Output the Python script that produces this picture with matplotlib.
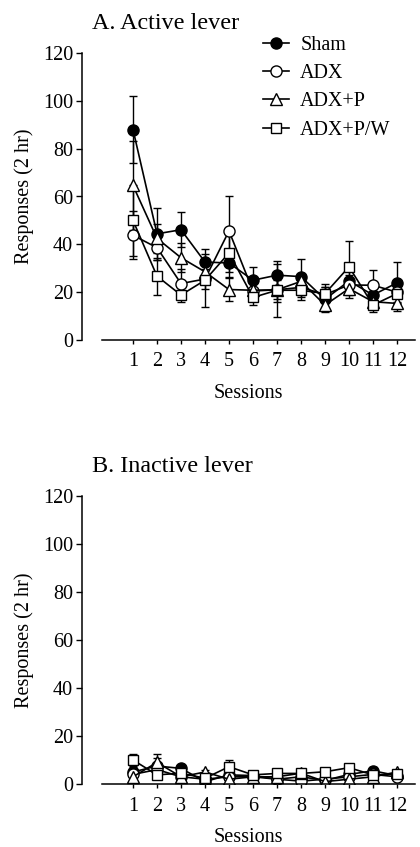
import numpy as np
import matplotlib
matplotlib.use("Agg")
import matplotlib.pyplot as plt
from matplotlib.lines import Line2D

plt.rcParams['font.family'] = ['Liberation Serif', 'DejaVu Serif']
plt.rcParams['font.size'] = 14.5

sessions = list(range(1, 13))
groups = ["Sham", "ADX", "ADX+P", "ADX+P/W"]

# panel A: active lever (mean, sem)
active_sham = [88, 44.4, 46.1, 32.6, 32.2, 25, 27.1, 26.5, 17, 24.7, 18.8, 23.9]
active_sham_err = [14, 11, 7.4, 5.6, 6, 5.5, 6, 7.5, 5, 5, 4, 8.7]
active_adx = [43.8, 38.6, 23.6, 25.5, 45.6, 20.5, 21, 22, 19, 23, 22.9, 20]
active_adx_err = [10, 5, 6, 4, 14.4, 4, 5, 4, 3, 4, 6.5, 4]
active_adxp = [64.6, 42.5, 34.4, 28.5, 21.1, 20.8, 21, 24.5, 14.6, 21.5, 16, 15.3]
active_adxp_err = [18.5, 6, 6, 5, 5, 3, 4, 3, 3, 4, 3, 3]
active_adxpw = [50, 26.7, 18.8, 25, 36.4, 17.8, 20.8, 20.8, 19.4, 30.6, 14.6, 19.4]
active_adxpw_err = [15, 7.7, 3, 11, 8, 3, 11, 4, 4, 11, 3, 4]

# panel B: inactive lever (mean, sem)
inactive_sham = [5, 7.5, 6.5, 1, 3.8, 3.5, 2, 3, 1.5, 4, 5.5, 3.5]
inactive_sham_err = [2, 5, 1.5, 1, 1.5, 1, 1.5, 1.5, 1, 1.5, 1.5, 1]
inactive_adx = [4, 6, 3, 2, 3, 3, 2, 1.2, 2, 3, 4, 3]
inactive_adx_err = [2, 2, 1.5, 1, 1.5, 1, 1, 1, 1, 1.5, 1.5, 1]
inactive_adxp = [3, 9, 3, 5, 2, 3, 3, 4.5, 1, 2, 3, 5]
inactive_adxp_err = [2, 2, 1, 1, 1, 1, 1, 1, 1, 1, 1, 1]
inactive_adxpw = [10, 3.8, 4.5, 2.4, 7.2, 3.8, 4.4, 4.4, 5.1, 6.8, 3.8, 4.2]
inactive_adxpw_err = [2.5, 1.5, 1.5, 1.5, 3, 1, 1.5, 1.5, 1.5, 1.5, 1, 1]

styles = {
    "Sham": dict(marker='o', mfc='black', ms=8),
    "ADX": dict(marker='o', mfc='white', ms=8),
    "ADX+P": dict(marker='^', mfc='white', ms=8),
    "ADX+P/W": dict(marker='s', mfc='white', ms=7.5),
}


def panel(ax, means, errs, title):
    for g, m, e in zip(groups, means, errs):
        ax.errorbar(sessions, m, yerr=e, color='black', mec='black', lw=1.2,
                     elinewidth=1.0, capsize=3, capthick=1.0, **styles[g])
    ax.set_xlim(-1.125, 12.75)
    ax.set_ylim(0, 120)
    ax.set_yticks(range(0, 121, 20))
    ax.set_xticks(sessions)
    ax.spines['top'].set_visible(False)
    ax.spines['right'].set_visible(False)
    ax.spines['left'].set_linewidth(1.1)
    ax.spines['bottom'].set_linewidth(1.1)
    ax.spines['bottom'].set_bounds(-0.3, 12.75)
    ax.spines['left'].set_bounds(0, 120)
    ax.tick_params(axis='y', direction='out', length=4.5, width=1.0, pad=2)
    ax.tick_params(axis='x', direction='out', length=3, width=1.0, pad=6)
    ax.set_xlabel("Sessions", labelpad=9)
    ax.set_ylabel("Responses (2 hr)", labelpad=6)
    ax.set_title(title, loc='left', x=0.03, pad=17)


fig = plt.figure(figsize=(4.2, 8.47), dpi=100)
ax1 = fig.add_axes([82 / 420, 1 - 340 / 847, 333 / 420, 287 / 847])
ax2 = fig.add_axes([82 / 420, 1 - 784 / 847, 333 / 420, 288 / 847])

panel(ax1, [active_sham, active_adx, active_adxp, active_adxpw],
      [active_sham_err, active_adx_err, active_adxp_err, active_adxpw_err],
      "A. Active lever")
panel(ax2, [inactive_sham, inactive_adx, inactive_adxp, inactive_adxpw],
      [inactive_sham_err, inactive_adx_err, inactive_adxp_err, inactive_adxpw_err],
      "B. Inactive lever")

handles = [Line2D([], [], color='black', mec='black', lw=1.2, **styles[g]) for g in groups]
fig.legend(handles, groups, loc='upper left',
           bbox_to_anchor=(263 / 420, 1 - 36 / 847), frameon=False,
           borderpad=0, borderaxespad=0, handlelength=1.3,
           handletextpad=0.55, labelspacing=0.45)

fig.savefig("out.png", dpi=100)
